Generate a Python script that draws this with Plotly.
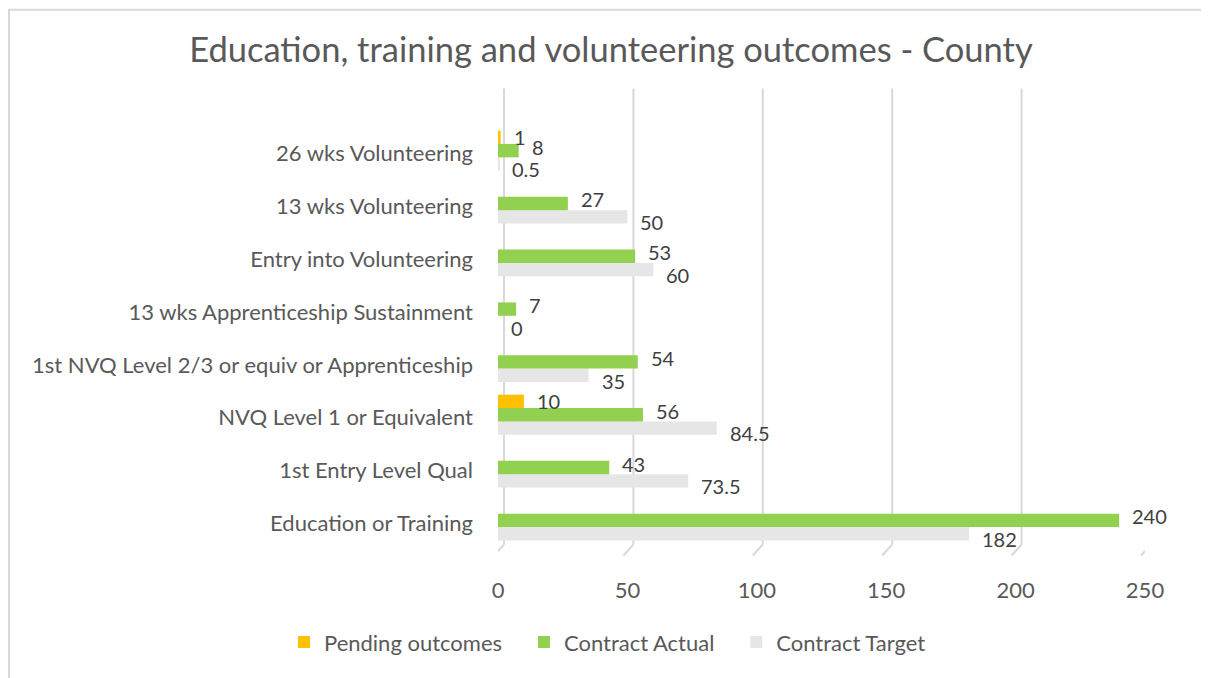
import plotly.graph_objects as go

# Data (bottom to top as plotted)
categories = [
    "Education or Training",
    "1st Entry Level Qual",
    "NVQ Level 1 or Equivalent",
    "1st NVQ Level 2/3 or equiv or Apprenticeship",
    "13 wks Apprenticeship Sustainment",
    "Entry into Volunteering",
    "13 wks Volunteering",
    "26 wks Volunteering",
]
pending_outcomes = [None, None, 10, None, None, None, None, 1]
contract_actual = [240, 43, 56, 54, 7, 53, 27, 8]
contract_target = [182, 73.5, 84.5, 35, 0, 60, 50, 0.5]
x_ticks = [0, 50, 100, 150, 200, 250]

FONT = "Lato"
TXT = "#595959"
LBL = "#404040"
GRID = "#D9D9D9"
NB = "\u00a0"

OFF = 8  # page body margin: figure starts at (8, 8) on screen
W, H = 1209, 678
ML, MR, MT, MB = 498 - OFF, 72, 122.5 - OFF, 132.5
PW = W - ML - MR
PH = H - MT - MB
BARGAP = 0.24
CAT_PX = PH / len(categories)
BAR_PX = CAT_PX * (1 - BARGAP) / 3


def py(screen_y):
    fy = screen_y - OFF
    return (H - MB - fy) / PH


def pxx(screen_x):
    fx = screen_x - OFF
    return (fx - ML) / PW


fig = go.Figure()

# plotted bottom-to-top inside each group: target, actual, pending
series = [
    ("Contract Target", contract_target, "#E7E6E6", -BAR_PX - 5),
    ("Contract Actual", contract_actual, "#92D050", 4),
    ("Pending outcomes", pending_outcomes, "#FFC000", BAR_PX),
]
annotations = []
for name, vals, col, lab_shift in series:
    fig.add_trace(go.Bar(
        y=categories, x=vals, name=name + NB * 3, orientation="h",
        marker=dict(color=col, line=dict(width=0)),
    ))
    for cat, v in zip(categories, vals):
        if v is None:
            continue
        annotations.append(dict(
            x=v, y=cat, xref="x", yref="y", text=f"{v:g}", showarrow=False,
            xanchor="left", yanchor="middle", xshift=11, yshift=lab_shift,
            font=dict(family=FONT, size=20, color=LBL),
        ))

shapes = []
# back-wall gridlines and slanted floor ticks
for v in x_ticks:
    shapes.append(dict(type="line", xref="x", yref="paper", xsizemode="pixel",
                       xanchor=v, x0=6, x1=6, y0=py(545), y1=py(88),
                       line=dict(color=GRID, width=2), layer="below"))
    shapes.append(dict(type="line", xref="x", yref="paper", xsizemode="pixel",
                       xanchor=v, x0=6, x1=-4, y0=py(545), y1=py(556),
                       line=dict(color=GRID, width=2), layer="below"))
# chart border (top and left visible)
shapes.append(dict(type="line", xref="paper", yref="paper",
                   x0=pxx(OFF), x1=pxx(W + 20), y0=py(9), y1=py(9),
                   line=dict(color=GRID, width=2)))
shapes.append(dict(type="line", xref="paper", yref="paper",
                   x0=pxx(OFF + 1), x1=pxx(OFF + 1), y0=py(9), y1=py(H + 20),
                   line=dict(color=GRID, width=2)))

fig.update_layout(
    width=W, height=H,
    margin=dict(l=ML, r=MR, t=MT, b=MB),
    paper_bgcolor="white", plot_bgcolor="white",
    barmode="group", bargap=BARGAP, bargroupgap=0,
    title=dict(text="Education, training and volunteering outcomes - County",
               x=(611 - OFF) / W, xanchor="center", y=1 - (50 - OFF) / H,
               yanchor="middle",
               font=dict(family=FONT, size=34.5, color=TXT)),
    xaxis=dict(range=[0, 250], tickvals=x_ticks, showgrid=False, zeroline=False,
               showline=False, ticks="", ticklabelstandoff=22,
               tickfont=dict(family=FONT, size=22, color=TXT), fixedrange=True),
    yaxis=dict(type="category", categoryorder="array", categoryarray=categories,
               showgrid=False, zeroline=False, showline=False, ticks="",
               ticklabelstandoff=24, ticklabelshift=3,
               tickfont=dict(family=FONT, size=22, color=TXT), fixedrange=True),
    legend=dict(orientation="h", x=pxx(284), xanchor="left",
                y=py(643), yanchor="middle",
                traceorder="reversed",
                font=dict(family=FONT, size=22, color=TXT)),
    annotations=annotations,
    shapes=shapes,
    showlegend=True,
)

fig.write_html("out.html")
